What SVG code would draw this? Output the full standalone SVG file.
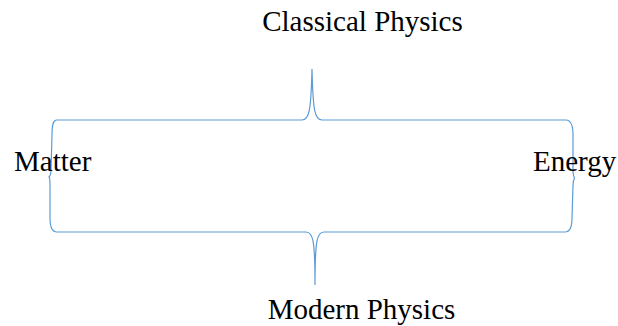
<svg xmlns="http://www.w3.org/2000/svg" width="618" height="326" viewBox="0 0 618 326">
<style>
.t{font-family:"Liberation Serif","Times New Roman",serif;font-size:29px;fill:#000}
.b{fill:none;stroke:#5B9BD5;stroke-width:1.2}
</style>
<rect width="618" height="326" fill="#fff"/>
<g id="connectors">
<path id="brace-top" class="b" d="M57,120 L302,120 C309,120 311,112 312,69 C313,112 315,120 322,120 L566,120"/>
<path id="brace-bottom" class="b" d="M57,232 L306,232 C313,232 315,240 315,285 C315,240 317,232 324,232 L565,232"/>
<path id="brace-left" class="b" d="M57,120 C53,120 52,125 52,135 L51,170 C51,174 50,176 49,177 C50,178 50,180 50,185 L50,218 C50,228 52,232 57,232"/>
<path id="brace-right" class="b" d="M566,120 C571,120 573,125 573,135 L573,171 C573,175 574,177 574.5,178 C574,179 573,181 573,185 L572,218 C572,228 570,232 565,232"/>
</g>
<g id="classical"><text class="t" x="362.5" y="31" text-anchor="middle">Classical Physics</text></g>
<g id="modern"><text class="t" x="361.5" y="319" text-anchor="middle">Modern Physics</text></g>
<g id="matter"><text class="t" x="14" y="171">Matter</text></g>
<g id="energy"><text class="t" x="533" y="171">Energy</text></g>
</svg>
